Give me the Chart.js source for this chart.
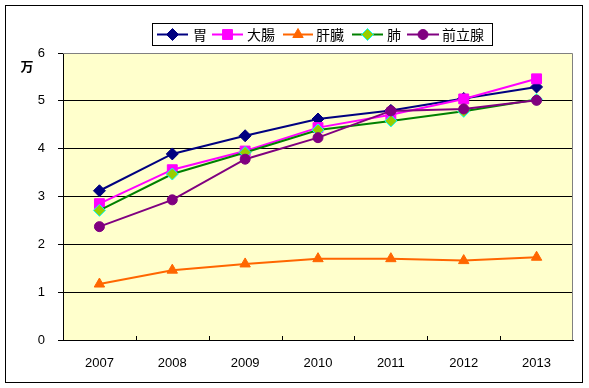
<!DOCTYPE html>
<html>
<head>
<meta charset="utf-8">
<script src="https://cdn.jsdelivr.net/npm/chart.js@4/dist/chart.umd.min.js"></script>
<style>
  html, body { margin: 0; padding: 0; background: #fff; }
  #wrap { width: 589px; height: 388px; }
</style>
</head>
<body>
<div id="wrap"><canvas id="cancerChart" width="589" height="388"></canvas></div>
<script>
// Data
var years = ['2007', '2008', '2009', '2010', '2011', '2012', '2013'];
var stomach = [3.12, 3.89, 4.27, 4.62, 4.80, 5.05, 5.29];
var colon = [2.85, 3.56, 3.95, 4.44, 4.71, 5.04, 5.46];
var liver = [1.17, 1.46, 1.59, 1.70, 1.70, 1.66, 1.73];
var lung = [2.71, 3.47, 3.92, 4.39, 4.58, 4.78, 5.03];
var prostate = [2.37, 2.93, 3.78, 4.23, 4.79, 4.83, 5.01];
var yTicks = [0, 1, 2, 3, 4, 5, 6];

var numFont = { family: 'Liberation Sans', size: 13 };

// Background, borders, legend and inner x ticks
var excelLook = {
    id: 'excelLook',
    beforeDraw: function (chart) {
        var c = chart.ctx, a = chart.chartArea;
        c.save();
        c.fillStyle = '#ffffcc';
        c.fillRect(a.left, a.top, a.right - a.left, a.bottom - a.top);
        c.restore();
    },
    beforeDatasetsDraw: function (chart) {
        var c = chart.ctx, a = chart.chartArea;
        c.save();
        // top and right edges of plot area
        c.strokeStyle = '#808080';
        c.lineWidth = 1;
        c.beginPath();
        c.moveTo(a.left, a.top + 0.5);
        c.lineTo(a.right - 0.5, a.top + 0.5);
        c.lineTo(a.right - 0.5, a.bottom);
        c.stroke();
        // x ticks pointing up into the plot
        c.strokeStyle = '#000';
        var step = (a.right - a.left) / years.length;
        for (var i = 1; i < years.length; i++) {
            var x = Math.round(a.left + i * step) + 0.5;
            c.beginPath();
            c.moveTo(x, a.bottom);
            c.lineTo(x, a.bottom - 4);
            c.stroke();
        }
        c.restore();
    },
    afterDraw: function (chart) {
        var c = chart.ctx;
        c.save();
        // outer frame
        c.strokeStyle = '#000';
        c.lineWidth = 1;
        c.strokeRect(5.5, 5.5, 577, 377);
        // y axis unit
        c.fillStyle = '#000';
        c.font = 'bold 13px "Noto Sans CJK JP"';
        c.textAlign = 'center';
        c.textBaseline = 'middle';
        c.fillText('万', 27, 66);
        // legend box
        c.strokeRect(152.5, 23.5, 340, 22);
        var items = [
            { x0: 157, x1: 188, tx: 193 },
            { x0: 212, x1: 243, tx: 247 },
            { x0: 283, x1: 313, tx: 316 },
            { x0: 352, x1: 383, tx: 387 },
            { x0: 407, x1: 439, tx: 442 }
        ];
        var ly = 34.5;
        chart.data.datasets.forEach(function (ds, i) {
            var it = items[i];
            c.strokeStyle = ds.borderColor;
            c.lineWidth = 2;
            c.beginPath();
            c.moveTo(it.x0, ly);
            c.lineTo(it.x1, ly);
            c.stroke();
            c.fillStyle = ds.pointBackgroundColor;
            c.strokeStyle = ds.pointBorderColor;
            c.lineWidth = 1;
            Chart.helpers.drawPoint(c, { pointStyle: ds.pointStyle, radius: ds.pointRadius, borderWidth: 1 }, (it.x0 + it.x1) / 2, ly);
            c.fillStyle = '#000';
            c.font = '14px "Noto Sans CJK JP"';
            c.textAlign = 'left';
            c.textBaseline = 'middle';
            c.fillText(ds.label, it.tx, ly);
        });
        c.restore();
    }
};

function series(label, data, line, fill, border, style, r, order) {
    return {
        label: label,
        data: data,
        borderColor: line,
        borderWidth: 2,
        pointStyle: style,
        pointRadius: r,
        pointHoverRadius: r,
        pointBackgroundColor: fill,
        pointBorderColor: border,
        pointBorderWidth: 1,
        tension: 0,
        fill: false,
        order: order
    };
}

var ctx = document.getElementById('cancerChart').getContext('2d');
var cancerChart = new Chart(ctx, {
    type: 'line',
    data: {
        labels: years,
        datasets: [
            series('胃', stomach, '#000080', '#000080', '#000080', 'rectRot', 6, 5),
            series('大腸', colon, '#ff00ff', '#ff00ff', '#ff00ff', 'rect', 7, 4),
            series('肝臓', liver, '#ff6600', '#ff6600', '#ff6600', 'triangle', 6, 3),
            series('肺', lung, '#008000', '#99cc00', '#00ffff', 'rectRot', 6, 2),
            series('前立腺', prostate, '#800080', '#800080', '#800080', 'circle', 5, 1)
        ]
    },
    plugins: [excelLook],
    options: {
        responsive: false,
        animation: false,
        layout: { padding: { left: 0, top: 53, right: 16, bottom: 0 } },
        scales: {
            x: {
                offset: true,
                grid: { display: false },
                border: { color: '#000', width: 1 },
                ticks: { color: '#000', font: numFont, padding: 8 },
                afterFit: function (s) { s.height = 48; }
            },
            y: {
                min: 0,
                max: 6,
                afterBuildTicks: function (s) { s.ticks = yTicks.map(function (v) { return { value: v }; }); },
                grid: {
                    color: function (c) { return c.tick && c.tick.value === 6 ? 'rgba(0,0,0,0)' : '#000'; },
                    tickColor: '#000',
                    tickLength: 5,
                    lineWidth: 1
                },
                border: { color: '#000', width: 1 },
                ticks: { color: '#000', font: numFont, padding: 13 },
                afterFit: function (s) { s.width = 63; }
            }
        },
        plugins: {
            legend: { display: false },
            title: { display: false },
            tooltip: { enabled: false }
        }
    }
});
</script>
</body>
</html>
